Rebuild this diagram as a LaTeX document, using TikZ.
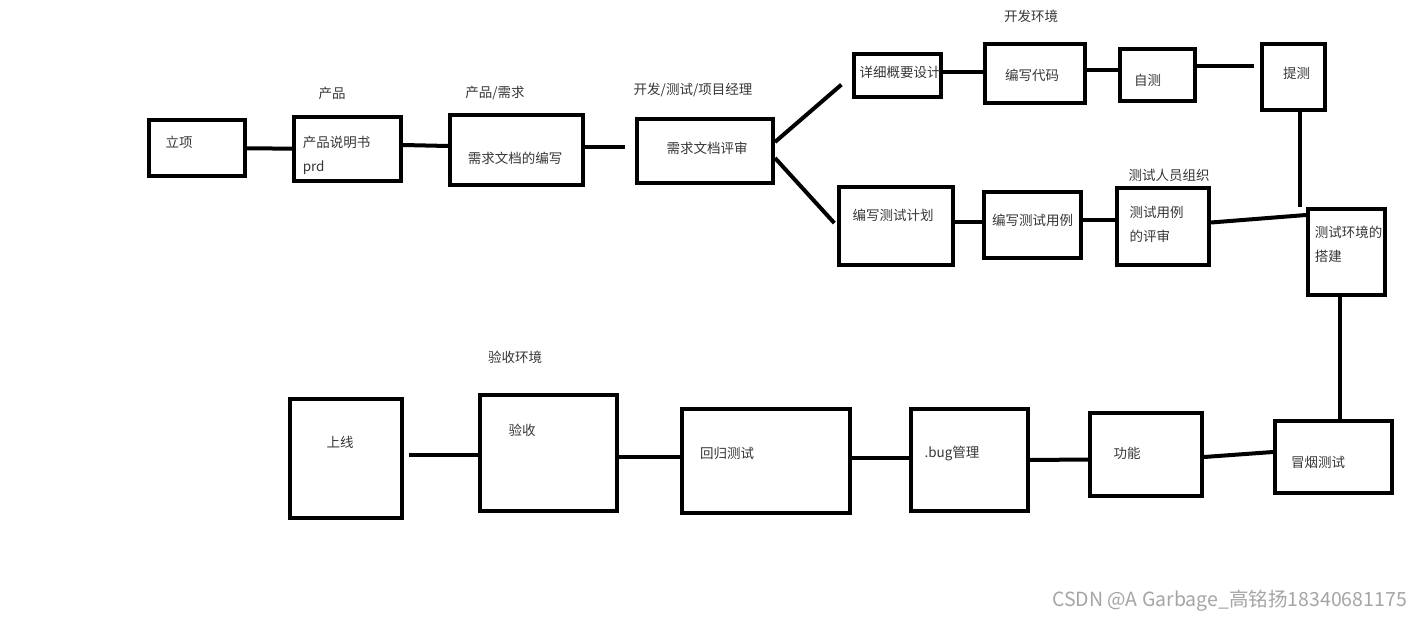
\documentclass[tikz,border=0pt]{standalone}
\usepackage{fontspec}
\setmainfont{Noto Sans CJK SC}
\usepackage{xcolor}
\usepackage{tikz}
\usetikzlibrary{positioning,calc}
\definecolor{inkgray}{RGB}{55,55,55}
\definecolor{markgray}{RGB}{165,165,165}

\begin{document}
\begin{tikzpicture}[x=1pt, y=-1pt,
    box/.style={draw=black, line width=4pt, fill=white, inner sep=0pt},
    wh/.style 2 args={minimum width=#1, minimum height=#2},
    txt/.style={text=inkgray, font=\fontsize{13.5}{24}\selectfont, align=left, inner sep=0pt},
    boxtext/.style n args={3}{label={[txt, xshift=#1, yshift=#2]center:#3}},
    tag/.style={text=inkgray, font=\fontsize{13.5}{16}\selectfont, inner sep=0pt},
    link/.style={line width=4pt, draw=black}
  ]
    \fill[white] (0,0) rectangle (1422,623);
    \useasboundingbox (0,0) rectangle (1422,623);

    % --- top row: from project start to review ---
    \node[box, wh={96pt}{56pt}, boxtext={-18pt}{6pt}{立项}]                    (lixiang)   at (197,148)    {};
    \node[box, wh={107pt}{64pt}, boxtext={-11pt}{-6pt}{产品说明书\\prd}]         (prd)       at (347.5,149)  {};
    \node[box, wh={133pt}{70pt}, boxtext={-1.5pt}{-8pt}{需求文档的编写}]         (reqdoc)    at (516.5,150)  {};
    \node[box, wh={136pt}{64pt}, boxtext={2pt}{3pt}{需求文档评审}]              (review)    at (705,151)    {};

    % --- development branch ---
    \node[box, wh={87pt}{43pt}, boxtext={2.5pt}{3.5pt}{详细概要设计}]           (design)    at (897.5,75.5) {};
    \node[box, wh={100pt}{59pt}, boxtext={-3pt}{-1.5pt}{编写代码}]              (coding)    at (1035,73.5)  {};
    \node[box, wh={75pt}{52pt}, boxtext={-10pt}{-5pt}{自测}]                    (selftest)  at (1157.5,75)  {};
    \node[box, wh={63pt}{66pt}, boxtext={3pt}{4pt}{提测}]                       (submit)    at (1293.5,77)  {};

    % --- test branch ---
    \node[box, wh={114pt}{78pt}, boxtext={-3pt}{11pt}{编写测试计划}]            (plan)       at (896,226)    {};
    \node[box, wh={97pt}{66pt}, boxtext={0pt}{5pt}{编写测试用例}]               (cases)      at (1032.5,225) {};
    \node[box, wh={92pt}{77pt}, boxtext={-6.5pt}{2pt}{测试用例\\的评审}]         (casereview) at (1163,226.5) {};
    \node[box, wh={77pt}{86pt}, boxtext={2pt}{7.5pt}{测试环境的\\搭建}]          (testenv)    at (1346.5,252) {};

    % --- bottom row, right to left ---
    \node[box, wh={117pt}{72pt}, boxtext={-15.5pt}{-5pt}{冒烟测试}]             (smoke)     at (1333.5,457) {};
    \node[box, wh={112pt}{83pt}, boxtext={-19pt}{1.5pt}{功能}]                  (func)      at (1146,454.5) {};
    \node[box, wh={117pt}{102pt}, boxtext={-17.5pt}{7pt}{.bug管理}]             (bug)       at (969.5,460)  {};
    \node[box, wh={168pt}{104pt}, boxtext={-39pt}{8pt}{回归测试}]               (regress)   at (766,461)    {};
    \node[box, wh={137pt}{116pt}, boxtext={-26.5pt}{23pt}{验收}]                (accept)    at (548.5,453)  {};
    \node[box, wh={112pt}{119pt}, boxtext={-6pt}{16.5pt}{上线}]                 (online)    at (346,458.5)  {};

    % --- role / environment tags ---
    \node[tag] (prdtag)    at (332,93)   {产品};
    \node[tag] (reqtag)    at (495,93)   {产品/需求};
    \node[tag] (reviewtag) at (693,90)   {开发/测试/项目经理};
    \node[tag] (devtag)    at (1031,16)  {开发环境};
    \node[tag] (testtag)   at (1169,175) {测试人员组织};
    \node[tag] (accepttag) at (515,357)  {验收环境};

    % --- connectors ---
    \draw[link] (lixiang) -- (prd);
    \draw[link] ([yshift=4pt]prd.east) -- ([yshift=4pt]reqdoc.west);
    \draw[link, shorten >=10pt] ([yshift=3pt]reqdoc.east) -- ([yshift=4pt]review.west);
    \draw[link, shorten >=14pt] ([yshift=9pt]review.east) -- (design.west);
    \draw[link, shorten >=4pt] ([yshift=-7pt]review.east) -- (plan.west);

    \draw[link] ([yshift=3.5pt]design.east) -- ([yshift=1.5pt]coding.west);
    \draw[link] ([yshift=3.5pt]coding.east) -- ([yshift=5pt]selftest.west);
    \draw[link, shorten >=6pt] ([yshift=9pt]selftest.east) -- ([yshift=11pt]submit.west);
    \draw[link] ([xshift=6.5pt]submit.south) -- ([xshift=6.5pt]submit.south |- testenv.north);

    \draw[link] ([yshift=4pt]plan.east) -- ([yshift=3pt]cases.west);
    \draw[link] ([yshift=5pt]cases.east) -- ([yshift=6.5pt]casereview.west);
    \draw[link] ([yshift=4pt]casereview.east) -- ([yshift=37pt]testenv.west);

    \draw[link] ([xshift=-6.5pt]testenv.south) -- ([xshift=-6.5pt]testenv.south |- smoke.north);
    \draw[link] ([yshift=5pt]smoke.west) -- ([yshift=-2.5pt]func.east);
    \draw[link] ([yshift=-5pt]func.west) -- (bug.east);
    \draw[link] ([yshift=2pt]bug.west) -- ([yshift=3pt]regress.east);
    \draw[link] ([yshift=4pt]regress.west) -- ([yshift=-4pt]accept.east);
    \draw[link, shorten >=5pt] ([yshift=-2pt]accept.west) -- ([yshift=3.5pt]online.east);

    % --- watermark ---
    \node[anchor=east, text=markgray, font=\fontsize{19.5}{22}\selectfont, inner sep=0pt] (mark) at (1407,601) {CSDN @A Garbage\_高铭扬18340681175};
\end{tikzpicture}
\end{document}
